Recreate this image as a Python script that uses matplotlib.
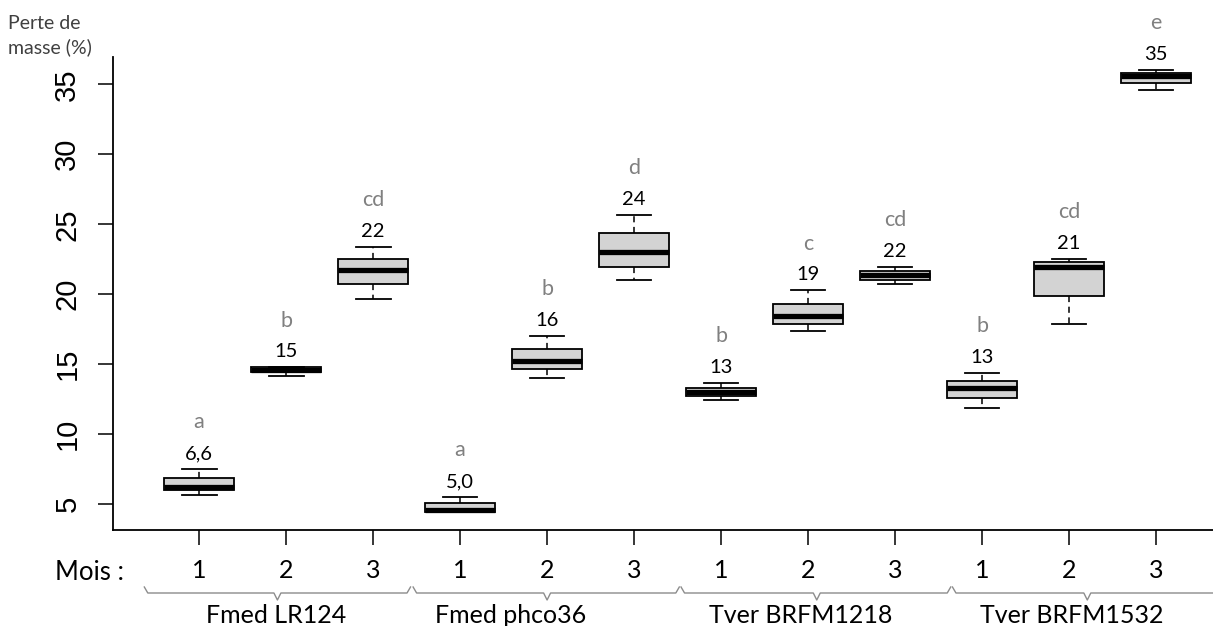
import numpy as np
import matplotlib
matplotlib.use('Agg')
import matplotlib.pyplot as plt
from matplotlib.transforms import blended_transform_factory

plt.rcParams['font.family'] = ['Lato', 'DejaVu Sans']

# strains and months (3 months per strain)
strains = ['Fmed LR124', 'Fmed phco36', 'Tver BRFM1218', 'Tver BRFM1532']
months = ['1', '2', '3']

# box statistics, one value per box (strain x month)
whis_lo = [5.66, 14.19, 19.69, 4.47, 14.04, 21.02, 12.47, 17.40, 20.76, 11.90, 17.88, 34.60]
q1      = [6.02, 14.45, 20.76, 4.47, 14.66, 21.97, 12.71, 17.86, 21.02, 12.61, 19.90, 35.10]
med     = [6.24, 14.62, 21.74, 4.62, 15.21, 23.04, 13.02, 18.47, 21.36, 13.33, 21.95, 35.60]
q3      = [6.86, 14.78, 22.52, 5.09, 16.07, 24.36, 13.33, 19.33, 21.69, 13.83, 22.31, 35.83]
whis_hi = [7.52, 14.80, 23.38, 5.54, 17.04, 25.69, 13.69, 20.29, 21.95, 14.40, 22.52, 36.02]

mean_lbl = ['6,6', '15', '22', '5,0', '16', '24', '13', '19', '22', '13', '21', '35']
letters = ['a', 'b', 'cd', 'a', 'b', 'd', 'b', 'c', 'cd', 'b', 'cd', 'e']

# layout of the hand-drawn braces under the axis (data x units)
brace_x0 = [0.37, 3.46, 6.54, 9.66]
brace_x1 = [3.43, 6.52, 9.64, 12.76]
brace_mid = [1.90, 5.00, 8.10, 11.21]
group_label_x = [1.89, 4.58, 7.91, 11.03]

W, H = 1213, 626
fig = plt.figure(figsize=(W / 100, H / 100), dpi=100)
ax = fig.add_axes([113 / W, 1 - 530 / H, 1 - 113 / W, (530 - 57) / H])

pos = np.arange(1, len(med) + 1)
stats = [dict(whislo=a, q1=b, med=c, q3=d, whishi=e, fliers=[])
         for a, b, c, d, e in zip(whis_lo, q1, med, q3, whis_hi)]
ax.bxp(stats, positions=pos, widths=0.81, capwidths=0.4, patch_artist=True,
       showfliers=False,
       boxprops=dict(facecolor='#d3d3d3', edgecolor='black', linewidth=1.3),
       medianprops=dict(color='black', linewidth=3.8, solid_capstyle='butt'),
       whiskerprops=dict(color='black', linewidth=1.1, linestyle=(0, (4, 3))),
       capprops=dict(color='black', linewidth=1.3))

for x, y, n, l in zip(pos, whis_hi, mean_lbl, letters):
    ax.annotate(n, (x, y), xytext=(0, 11), textcoords='offset points',
                ha='center', va='center', fontsize=14.5, color='black')
    ax.annotate(l, (x, y), xytext=(0, 33.5), textcoords='offset points',
                ha='center', va='center', fontsize=15.5, color='#808080')

ax.set_xlim(0.01, 12.655)
ax.set_ylim(3.16, 36.95)
ax.set_yticks([5, 10, 15, 20, 25, 30, 35])
ax.set_yticklabels(['5', '10', '15', '20', '25', '30', '35'], rotation=90,
                   va='center', fontsize=21,
                   family=['Liberation Sans Narrow', 'Liberation Sans'])
ax.set_xticks(pos)
ax.set_xticklabels(months * len(strains), fontsize=18)
ax.tick_params(axis='both', length=10.8, width=1.1, color='black')
ax.tick_params(axis='y', pad=12)
ax.tick_params(axis='x', pad=10)
for s in ['top', 'right']:
    ax.spines[s].set_visible(False)
for s in ['left', 'bottom']:
    ax.spines[s].set_linewidth(1.3)

# braces and strain names under the month labels
tr = blended_transform_factory(ax.transData, fig.transFigure)
y_line, y_hook, y_notch = 1 - 593 / H, 1 - 587 / H, 1 - 600 / H
for x0, x1, xm, name, xl in zip(brace_x0, brace_x1, brace_mid, strains, group_label_x):
    xs = [x0, x0 + 0.04, xm - 0.04, xm, xm + 0.04, x1 - 0.04, x1]
    ys = [y_hook, y_line, y_line, y_notch, y_line, y_line, y_hook]
    ax.plot(xs, ys, color='#8c8c8c', lw=1.0, transform=tr, clip_on=False)
    ax.text(xl, 1 - 623 / H, name, transform=tr, ha='center', va='baseline',
            fontsize=18)

fig.text(55 / W, 1 - 572 / H, 'Mois :', ha='left', va='center', fontsize=18.5)
fig.text(8 / W, 1 - 15 / H, 'Perte de\nmasse (%)', ha='left', va='top',
         fontsize=14, color='#404040', linespacing=1.45)

fig.savefig('out.png', dpi=100, facecolor='white')
